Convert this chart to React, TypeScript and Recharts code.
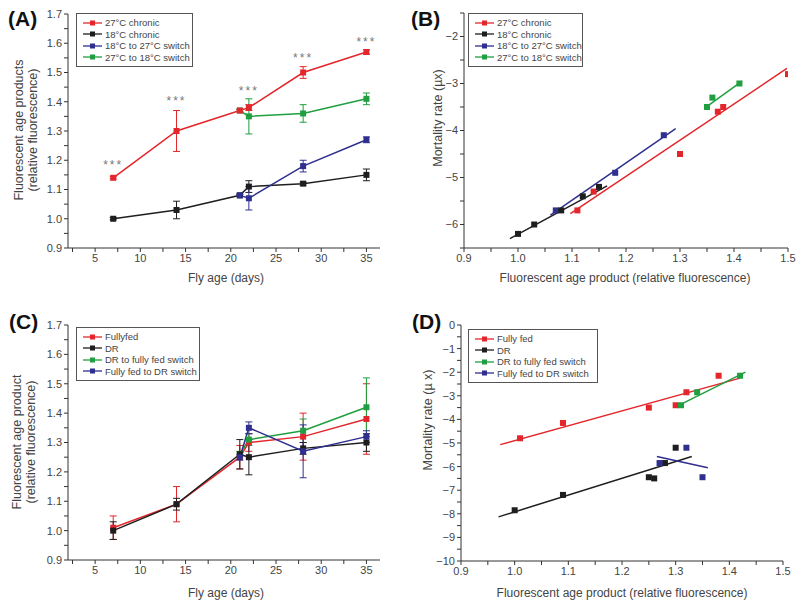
import React from 'react'
import { ComposedChart, Line, Scatter, XAxis, YAxis, ErrorBar } from 'recharts'

const RED = '#e3262b'
const BLACK = '#1e1e1e'
const BLUE = '#2e2f8f'
const GREEN = '#1f9f3f'

// ---- panel A: temperature, fluorescence vs age
const ageDays = [7, 14, 21, 22, 28, 35]
const switchDays = [21, 22, 28, 35]
const chronic27 = [1.14, 1.3, 1.37, 1.38, 1.5, 1.57]
const chronic27Err = [0.004, 0.07, 0.004, 0.01, 0.02, 0.008]
const chronic18 = [1.0, 1.03, 1.08, 1.11, 1.12, 1.15]
const chronic18Err = [0.004, 0.03, 0.004, 0.02, 0.005, 0.02]
const switch18to27 = [1.08, 1.07, 1.18, 1.27]
const switch18to27Err = [0.004, 0.04, 0.02, 0.01]
const switch27to18 = [1.37, 1.35, 1.36, 1.41]
const switch27to18Err = [0.004, 0.06, 0.03, 0.02]
const starDays = [7, 14, 22, 28, 35]
const starLevels = [1.19, 1.41, 1.445, 1.555, 1.61]

// ---- panel B: temperature, mortality vs fluorescence
const bRedX = [1.11, 1.14, 1.3, 1.37, 1.38, 1.5]
const bRedY = [-5.7, -5.3, -4.5, -3.6, -3.5, -2.8]
const bRedFitX = [1.097, 1.498]
const bRedFitY = [-5.77, -2.68]
const bBlackX = [1.0, 1.03, 1.08, 1.12, 1.15]
const bBlackY = [-6.2, -6.0, -5.7, -5.4, -5.2]
const bBlackFitX = [0.985, 1.165]
const bBlackFitY = [-6.3, -5.18]
const bBlueX = [1.07, 1.18, 1.27]
const bBlueY = [-5.7, -4.9, -4.1]
const bBlueFitX = [1.06, 1.292]
const bBlueFitY = [-5.8, -3.96]
const bGreenX = [1.35, 1.36, 1.41]
const bGreenY = [-3.5, -3.3, -3.0]
const bGreenFitX = [1.345, 1.415]
const bGreenFitY = [-3.53, -2.95]

// ---- panel C: diet, fluorescence vs age
const fullyFed = [1.01, 1.09, 1.25, 1.3, 1.32, 1.38]
const fullyFedErr = [0.04, 0.06, 0.04, 0.03, 0.08, 0.12]
const dr = [1.0, 1.09, 1.26, 1.25, 1.28, 1.3]
const drErr = [0.03, 0.02, 0.05, 0.06, 0.02, 0.03]
const drToFed = [1.26, 1.31, 1.34, 1.42]
const drToFedErr = [0.01, 0.02, 0.04, 0.1]
const fedToDr = [1.25, 1.35, 1.27, 1.32]
const fedToDrErr = [0.01, 0.02, 0.09, 0.02]

// ---- panel D: diet, mortality vs fluorescence
const dRedX = [1.01, 1.09, 1.25, 1.3, 1.32, 1.38]
const dRedY = [-4.8, -4.15, -3.5, -3.4, -2.85, -2.15]
const dRedFitX = [0.973, 1.42]
const dRedFitY = [-5.07, -2.25]
const dBlackX = [1.0, 1.09, 1.25, 1.26, 1.28, 1.3]
const dBlackY = [-7.85, -7.2, -6.45, -6.5, -5.85, -5.2]
const dBlackFitX = [0.97, 1.33]
const dBlackFitY = [-8.13, -5.57]
const dGreenX = [1.31, 1.34, 1.42]
const dGreenY = [-3.4, -2.85, -2.15]
const dGreenFitX = [1.3, 1.43]
const dGreenFitY = [-3.47, -2.0]
const dBlueX = [1.27, 1.32, 1.35]
const dBlueY = [-5.85, -5.2, -6.45]
const dBlueFitX = [1.265, 1.36]
const dBlueFitY = [-5.57, -6.05]

// ticks
const ageTicks = [5, 10, 15, 20, 25, 30, 35]
const ageMinor = [2.5, 7.5, 12.5, 17.5, 22.5, 27.5, 32.5]
const fluoTicks = [0.9, 1.0, 1.1, 1.2, 1.3, 1.4, 1.5, 1.6, 1.7]
const fluoMinor = [0.95, 1.05, 1.15, 1.25, 1.35, 1.45, 1.55, 1.65]
const faTicks = [0.9, 1.0, 1.1, 1.2, 1.3, 1.4, 1.5]
const faMinor = [0.95, 1.05, 1.15, 1.25, 1.35, 1.45]
const bMortTicks = [-6, -5, -4, -3, -2]
const bMortMinor = [-6.5, -5.5, -4.5, -3.5, -2.5, -1.5]
const dMortTicks = [-10, -9, -8, -7, -6, -5, -4, -3, -2, -1, 0]
const dMortMinor = [-9.5, -8.5, -7.5, -6.5, -5.5, -4.5, -3.5, -2.5, -1.5, -0.5]

const zip = (xs: number[], ys: number[], es?: number[]) =>
  xs.map((x, i) => ({ x, y: ys[i], err: es ? es[i] : 0 }))

const allTicks = (major: number[], minor: number[]) => [...major, ...minor].sort((a, b) => a - b)
const isMajor = (list: number[]) => (v: number) => list.some(t => Math.abs(t - v) < 1e-6)
const fmt = (list: number[], digits: number) => (v: number) => {
  if (!isMajor(list)(v)) return ''
  const s = v.toFixed(digits)
  return v < 0 ? '\u2212' + s.slice(1) : s
}

const tickStyle = { fontSize: 11, fill: '#444' }
const axisCommon = {
  axisLine: { stroke: '#333' },
  tickLine: { stroke: '#333' },
  tickSize: 4,
  tickMargin: 2,
  tick: tickStyle,
  allowDataOverflow: true,
}

const square = (color: string, key: string) => (p: any) =>
  p.cx == null ? <g key={`${key}-${p.index}`} /> : (
    <rect key={`${key}-${p.index}`} x={p.cx - 3} y={p.cy - 3} width={6} height={6} fill={color} />
  )

const scatterSquare = (color: string) => (p: any) =>
  <rect x={p.cx - 3} y={p.cy - 3} width={6} height={6} fill={color} />

function LegendBox({ left, top, width, items }: { left: number; top: number; width: number; items: { label: string; color: string }[] }) {
  return (
    <div style={{
      position: 'absolute', left, top, width, border: '1px solid #555', boxSizing: 'border-box',
      padding: '3px 0 3px 5px', fontSize: 9.5, color: '#444', background: '#fff',
    }}>
      {items.map(it => (
        <div key={it.label} style={{ display: 'flex', alignItems: 'center', height: 11.5 }}>
          <svg width={21} height={8}>
            <line x1={1} y1={4} x2={20} y2={4} stroke={it.color} strokeWidth={1.3} />
            <rect x={8} y={1.5} width={5} height={5} fill={it.color} />
          </svg>
          <span style={{ marginLeft: 2, whiteSpace: 'nowrap' }}>{it.label}</span>
        </div>
      ))}
    </div>
  )
}

function VLabel({ cx, cy, lines }: { cx: number; cy: number; lines: string[] }) {
  return (
    <div style={{
      position: 'absolute', left: cx, top: cy, transform: 'translate(-50%,-50%) rotate(-90deg)',
      whiteSpace: 'nowrap', textAlign: 'center', fontSize: 12.5, lineHeight: '14px', color: '#444',
    }}>
      {lines.map(l => <div key={l}>{l}</div>)}
    </div>
  )
}

function HLabel({ cx, cy, text }: { cx: number; cy: number; text: string }) {
  return (
    <div style={{
      position: 'absolute', left: cx, top: cy, transform: 'translate(-50%,-50%)',
      whiteSpace: 'nowrap', fontSize: 12, color: '#444',
    }}>{text}</div>
  )
}

function PanelTag({ left, top, text }: { left: number; top: number; text: string }) {
  return (
    <div style={{ position: 'absolute', left, top, fontSize: 21, fontWeight: 'bold', color: '#111' }}>{text}</div>
  )
}

const lineSeries = (key: string, data: any[], color: string) => (
  <Line key={key} data={data} dataKey="y" type="linear" stroke={color} strokeWidth={1.5}
    dot={square(color, key)} activeDot={false} isAnimationActive={false}>
    <ErrorBar dataKey="err" width={3.5} stroke={color} strokeWidth={1} direction="y" />
  </Line>
)

const fitLine = (key: string, xs: number[], ys: number[], color: string) => (
  <Line key={key} data={zip(xs, ys)} dataKey="y" type="linear" stroke={color} strokeWidth={1.5}
    dot={false} activeDot={false} isAnimationActive={false} />
)

const points = (key: string, xs: number[], ys: number[], color: string) => (
  <Scatter key={key} data={zip(xs, ys)} fill={color} shape={scatterSquare(color)} isAnimationActive={false} />
)

const stars = (p: any) => (
  <text x={p.cx} y={p.cy + 6} textAnchor="middle" fontSize={12} fill="#777" letterSpacing={2}>***</text>
)

export default function App() {
  return (
    <div style={{
      position: 'absolute', left: 0, top: 0, width: 800, height: 604, background: '#fff',
      fontFamily: '"Liberation Sans", Arial, sans-serif', overflow: 'hidden',
    }}>
      {/* (A) */}
      <div style={{ position: 'absolute', left: 0, top: 0 }}>
        <ComposedChart width={400} height={300} margin={{ top: 14, right: 20, bottom: 22, left: 28 }}>
          <XAxis type="number" dataKey="x" domain={[2, 36.5]} ticks={allTicks(ageTicks, ageMinor)}
            tickFormatter={fmt(ageTicks, 0)} height={30} {...axisCommon} />
          <YAxis type="number" dataKey="y" domain={[0.9, 1.7]} ticks={allTicks(fluoTicks, fluoMinor)}
            tickFormatter={fmt(fluoTicks, 1)} width={40} {...axisCommon} />
          {lineSeries('a-black', zip(ageDays, chronic18, chronic18Err), BLACK)}
          {lineSeries('a-blue', zip(switchDays, switch18to27, switch18to27Err), BLUE)}
          {lineSeries('a-green', zip(switchDays, switch27to18, switch27to18Err), GREEN)}
          {lineSeries('a-red', zip(ageDays, chronic27, chronic27Err), RED)}
          <Scatter data={zip(starDays, starLevels)} shape={stars} isAnimationActive={false} />
        </ComposedChart>
      </div>

      {/* (B) */}
      <div style={{ position: 'absolute', left: 400, top: 0 }}>
        <ComposedChart width={400} height={300} margin={{ top: 13, right: 12, bottom: 22, left: 24 }}>
          <XAxis type="number" dataKey="x" domain={[0.9, 1.5]} ticks={allTicks(faTicks, faMinor)}
            tickFormatter={fmt(faTicks, 1)} height={30} {...axisCommon} />
          <YAxis type="number" dataKey="y" domain={[-6.5, -1.5]} ticks={allTicks(bMortTicks, bMortMinor)}
            tickFormatter={fmt(bMortTicks, 0)} width={40} {...axisCommon} />
          {fitLine('b-red-fit', bRedFitX, bRedFitY, RED)}
          {fitLine('b-blue-fit', bBlueFitX, bBlueFitY, BLUE)}
          {fitLine('b-black-fit', bBlackFitX, bBlackFitY, BLACK)}
          {fitLine('b-green-fit', bGreenFitX, bGreenFitY, GREEN)}
          {points('b-red', bRedX, bRedY, RED)}
          {points('b-blue', bBlueX, bBlueY, BLUE)}
          {points('b-black', bBlackX, bBlackY, BLACK)}
          {points('b-green', bGreenX, bGreenY, GREEN)}
        </ComposedChart>
      </div>

      {/* (C) */}
      <div style={{ position: 'absolute', left: 0, top: 300 }}>
        <ComposedChart width={400} height={304} margin={{ top: 25, right: 20, bottom: 14, left: 28 }}>
          <XAxis type="number" dataKey="x" domain={[2, 36.5]} ticks={allTicks(ageTicks, ageMinor)}
            tickFormatter={fmt(ageTicks, 0)} height={30} {...axisCommon} />
          <YAxis type="number" dataKey="y" domain={[0.9, 1.7]} ticks={allTicks(fluoTicks, fluoMinor)}
            tickFormatter={fmt(fluoTicks, 1)} width={40} {...axisCommon} />
          {lineSeries('c-red', zip(ageDays, fullyFed, fullyFedErr), RED)}
          {lineSeries('c-green', zip(switchDays, drToFed, drToFedErr), GREEN)}
          {lineSeries('c-black', zip(ageDays, dr, drErr), BLACK)}
          {lineSeries('c-blue', zip(switchDays, fedToDr, fedToDrErr), BLUE)}
        </ComposedChart>
      </div>

      {/* (D) */}
      <div style={{ position: 'absolute', left: 400, top: 300 }}>
        <ComposedChart width={400} height={304} margin={{ top: 25, right: 17, bottom: 13, left: 21 }}>
          <XAxis type="number" dataKey="x" domain={[0.9, 1.5]} ticks={allTicks(faTicks, faMinor)}
            tickFormatter={fmt(faTicks, 1)} height={30} {...axisCommon} />
          <YAxis type="number" dataKey="y" domain={[-10, 0]} ticks={allTicks(dMortTicks, dMortMinor)}
            tickFormatter={fmt(dMortTicks, 0)} width={40} {...axisCommon} />
          {fitLine('d-red-fit', dRedFitX, dRedFitY, RED)}
          {fitLine('d-green-fit', dGreenFitX, dGreenFitY, GREEN)}
          {fitLine('d-black-fit', dBlackFitX, dBlackFitY, BLACK)}
          {fitLine('d-blue-fit', dBlueFitX, dBlueFitY, BLUE)}
          {points('d-red', dRedX, dRedY, RED)}
          {points('d-green', dGreenX, dGreenY, GREEN)}
          {points('d-black', dBlackX, dBlackY, BLACK)}
          {points('d-blue', dBlueX, dBlueY, BLUE)}
        </ComposedChart>
      </div>

      {/* axis titles */}
      <VLabel cx={26} cy={130} lines={['Fluorescent age products', '(relative fluorescence)']} />
      <HLabel cx={226} cy={278} text="Fly age (days)" />
      <VLabel cx={438} cy={118} lines={['Mortality rate (\u00b5x)']} />
      <HLabel cx={625} cy={278} text="Fluorescent age product (relative fluorescence)" />
      <VLabel cx={24} cy={442} lines={['Fluorescent age product', '(relative fluorescence)']} />
      <HLabel cx={226} cy={593} text="Fly age (days)" />
      <VLabel cx={428} cy={420} lines={['Mortality rate (\u00b5 x)']} />
      <HLabel cx={622} cy={593} text="Fluorescent age product (relative fluorescence)" />

      {/* legends */}
      <LegendBox left={76} top={13} width={117} items={[
        { label: '27\u00b0C chronic', color: RED },
        { label: '18\u00b0C chronic', color: BLACK },
        { label: '18\u00b0C to 27\u00b0C switch', color: BLUE },
        { label: '27\u00b0C to 18\u00b0C switch', color: GREEN },
      ]} />
      <LegendBox left={468} top={13} width={115} items={[
        { label: '27\u00b0C chronic', color: RED },
        { label: '18\u00b0C chronic', color: BLACK },
        { label: '18\u00b0C to 27\u00b0C switch', color: BLUE },
        { label: '27\u00b0C to 18\u00b0C switch', color: GREEN },
      ]} />
      <LegendBox left={76} top={327} width={124} items={[
        { label: 'Fullyfed', color: RED },
        { label: 'DR', color: BLACK },
        { label: 'DR to fully fed switch', color: GREEN },
        { label: 'Fully fed to DR switch', color: BLUE },
      ]} />
      <LegendBox left={468} top={329} width={130} items={[
        { label: 'Fully fed', color: RED },
        { label: 'DR', color: BLACK },
        { label: 'DR to fully fed switch', color: GREEN },
        { label: 'Fully fed to DR switch', color: BLUE },
      ]} />

      <PanelTag left={8} top={7} text="(A)" />
      <PanelTag left={411} top={7} text="(B)" />
      <PanelTag left={9} top={310} text="(C)" />
      <PanelTag left={412} top={310} text="(D)" />
    </div>
  )
}
